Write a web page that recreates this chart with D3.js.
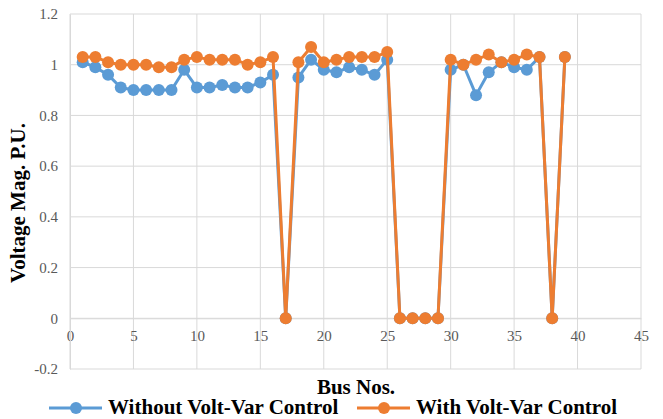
<!DOCTYPE html>
<html>
<head>
<meta charset="utf-8">
<script src="https://cdn.jsdelivr.net/npm/d3@7"></script>
<style>
  body { margin: 0; background: #fff; }
</style>
</head>
<body>
<svg id="chart" width="663" height="419"></svg>
<script>
var buses = d3.range(1, 40);

var withoutVVC = [1.01, 0.99, 0.96, 0.91, 0.90, 0.90, 0.90, 0.90, 0.98, 0.91,
                  0.91, 0.92, 0.91, 0.91, 0.93, 0.96, 0, 0.95, 1.02, 0.98,
                  0.97, 0.99, 0.98, 0.96, 1.02, 0, 0, 0, 0, 0.98,
                  1.00, 0.88, 0.97, 1.01, 0.99, 0.98, 1.03, 0, 1.03];

var withVVC = [1.03, 1.03, 1.01, 1.00, 1.00, 1.00, 0.99, 0.99, 1.02, 1.03,
               1.02, 1.02, 1.02, 1.00, 1.01, 1.03, 0, 1.01, 1.07, 1.01,
               1.02, 1.03, 1.03, 1.03, 1.05, 0, 0, 0, 0, 1.02,
               1.00, 1.02, 1.04, 1.01, 1.02, 1.04, 1.03, 0, 1.03];

var xTicks = [0, 5, 10, 15, 20, 25, 30, 35, 40, 45];
var yTicks = [-0.2, 0, 0.2, 0.4, 0.6, 0.8, 1, 1.2];

var seriesNames = ["Without Volt-Var Control", "With Volt-Var Control"];
var colors = ["#5B9BD5", "#ED7D31"];

var serif = "'Liberation Serif', 'Times New Roman', 'DejaVu Serif', serif";

var margin = {top: 14, right: 22, bottom: 50, left: 70},
    width = 663 - margin.left - margin.right,
    height = 419 - margin.top - margin.bottom;

var x = d3.scaleLinear().domain([0, 45]).range([0, width]);
var y = d3.scaleLinear().domain([-0.2, 1.2]).range([height, 0]);

var svg = d3.select("#chart");
var g = svg.append("g")
    .attr("transform", "translate(" + margin.left + "," + margin.top + ")");

// grid
g.append("g")
  .selectAll("line")
  .data(yTicks)
  .enter().append("line")
  .attr("x1", 0).attr("x2", width)
  .attr("y1", function(d){ return y(d); })
  .attr("y2", function(d){ return y(d); })
  .attr("stroke", "#D9D9D9").attr("stroke-width", 1);

g.append("g")
  .selectAll("line")
  .data(xTicks)
  .enter().append("line")
  .attr("x1", function(d){ return x(d); })
  .attr("x2", function(d){ return x(d); })
  .attr("y1", 0).attr("y2", height)
  .attr("stroke", "#D9D9D9").attr("stroke-width", 1);

// x axis at y=0
var xAxis = d3.axisBottom(x).tickValues(xTicks).tickSize(0).tickPadding(12);
g.append("g")
  .attr("transform", "translate(0," + y(0) + ")")
  .call(xAxis)
  .attr("font-family", serif)
  .attr("font-size", 15)
  .call(function(s){ s.select(".domain").attr("stroke", "#D9D9D9"); })
  .selectAll("text")
  .attr("fill", "#595959");

var yAxis = d3.axisLeft(y).tickValues(yTicks).tickSize(0).tickPadding(12)
  .tickFormat(function(d){ return String(+d.toFixed(1)); });
g.append("g")
  .call(yAxis)
  .attr("font-family", serif)
  .attr("font-size", 15)
  .call(function(s){ s.select(".domain").attr("stroke", "#D9D9D9"); })
  .selectAll("text")
  .attr("fill", "#595959");

// series
var allSeries = [withoutVVC, withVVC];
var line = d3.line()
  .x(function(d, i){ return x(buses[i]); })
  .y(function(d){ return y(d); });

allSeries.forEach(function(vals, k){
  g.append("path")
    .datum(vals)
    .attr("fill", "none")
    .attr("stroke", colors[k])
    .attr("stroke-width", 3)
    .attr("stroke-linejoin", "round")
    .attr("d", line);

  g.append("g")
    .selectAll("circle")
    .data(vals)
    .enter().append("circle")
    .attr("cx", function(d, i){ return x(buses[i]); })
    .attr("cy", function(d){ return y(d); })
    .attr("r", 6)
    .attr("fill", colors[k]);
});

// axis titles
svg.append("text")
  .attr("transform", "translate(25,203) rotate(-90)")
  .attr("text-anchor", "middle")
  .attr("font-family", serif)
  .attr("font-weight", "bold")
  .attr("font-size", 21)
  .text("Voltage Mag. P.U.");

svg.append("text")
  .attr("x", 356)
  .attr("y", 394)
  .attr("text-anchor", "middle")
  .attr("font-family", serif)
  .attr("font-weight", "bold")
  .attr("font-size", 21)
  .text("Bus Nos.");

// legend
var legendX = [49, 357];
seriesNames.forEach(function(name, k){
  var lg = svg.append("g").attr("transform", "translate(" + legendX[k] + ",408)");
  lg.append("line")
    .attr("x1", 0).attr("x2", 53)
    .attr("y1", 0).attr("y2", 0)
    .attr("stroke", colors[k]).attr("stroke-width", 3);
  lg.append("circle")
    .attr("cx", 27).attr("cy", 0).attr("r", 6)
    .attr("fill", colors[k]);
  lg.append("text")
    .attr("x", 59).attr("y", 6)
    .attr("font-family", serif)
    .attr("font-weight", "bold")
    .attr("font-size", 21)
    .text(name);
});
</script>
</body>
</html>
